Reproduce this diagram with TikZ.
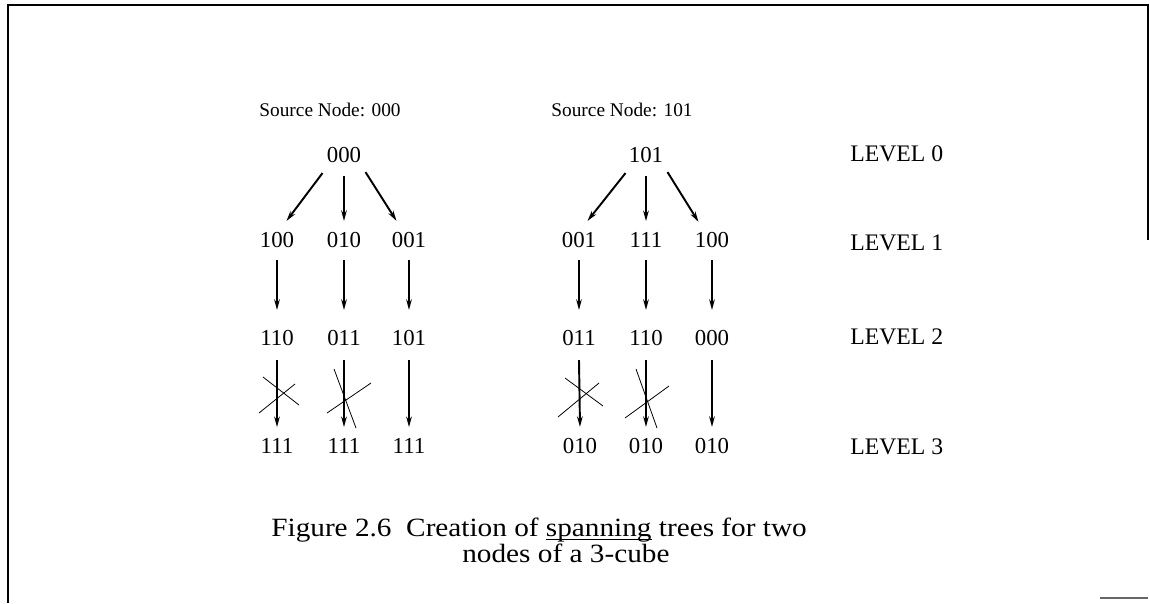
\documentclass[tikz,border=0pt]{standalone}
\usepackage{fontspec}
\setmainfont{Liberation Serif}
\newfontfamily\capfont[FakeStretch=1.11]{Liberation Serif}
\usetikzlibrary{arrows.meta,calc}
\newlength\myulwd
\newcommand\myul[1]{\settowidth\myulwd{#1}\rlap{\rule[-2.2pt]{\myulwd}{0.6pt}}#1}
\begin{document}
\begin{tikzpicture}[x=0.02cm,y=-0.02cm,
  lbl/.style={inner sep=0pt,font=\fontsize{13}{15}\selectfont},
  src/.style={inner sep=0pt,font=\fontsize{11}{13}\selectfont},
  lvl/.style={inner sep=0pt,anchor=west,font=\fontsize{13.5}{16}\selectfont},
  captxt/.style={inner sep=0pt,anchor=base west,font=\capfont\fontsize{15}{18}\selectfont},
  arr/.style={line width=1.1pt,-{Stealth[length=6pt,width=3.2pt]}},
  crs/.style={line width=0.45pt},
  frm/.style={line width=1.4pt}]
\useasboundingbox (0,0) rectangle (1150,603);
% frame
\draw[frm] (8,603) -- (8,5) -- (1148,5) -- (1148,240);
\draw[line width=1pt,black!60] (1100,598) -- (1148,598);

% titles
\node[src] (s1) at (330,110) {Source Node: 000};
\node[src] (s2) at (622,110) {Source Node: 101};

% tree 1
\node[lbl] (t0) at (344,155) {000};
\node[lbl] (a1) at (277,240) {100};
\node[lbl] (a2) at (344,240) {010};
\node[lbl] (a3) at (409,240) {001};
\node[lbl] (b1) at (277,338) {110};
\node[lbl] (b2) at (344,338) {011};
\node[lbl] (b3) at (409,338) {101};
\node[lbl] (c1) at (277,446) {111};
\node[lbl] (c2) at (344,446) {111};
\node[lbl] (c3) at (409,446) {111};

% tree 2
\node[lbl] (u0) at (646,155) {101};
\node[lbl] (d1) at (579,240) {001};
\node[lbl] (d2) at (646,240) {111};
\node[lbl] (d3) at (712,240) {100};
\node[lbl] (e1) at (579,338) {011};
\node[lbl] (e2) at (646,338) {110};
\node[lbl] (e3) at (712,338) {000};
\node[lbl] (f1) at (580,446) {010};
\node[lbl] (f2) at (646,446) {010};
\node[lbl] (f3) at (712,446) {010};

% level labels
\node[lvl] (l0) at (850,154) {LEVEL 0};
\node[lvl] (l1) at (850,243) {LEVEL 1};
\node[lvl] (l2) at (850,337) {LEVEL 2};
\node[lvl] (l3) at (850,447) {LEVEL 3};

% arrows tree 1
\draw[arr] ($(t0.south west)+(-4,10)$) -- ($(a1.north east)+(-8,-11)$);
\draw[arr] ($(t0.south)+(0,13)$) -- ($(a2.north)+(0,-11)$);
\draw[arr] ($(t0.south east)+(4,9)$) -- ($(a3.north west)+(5,-11)$);
\foreach \p/\q in {a1/b1,a2/b2,a3/b3} {
  \draw[arr] ($(\p.south)+(0,12)$) -- ($(\q.north)+(0,-20)$);
}
\foreach \p/\q in {b1/c1,b2/c2,b3/c3} {
  \draw[arr] ($(\p.south)+(0,14)$) -- ($(\q.north)+(0,-11)$);
}
% arrows tree 2
\draw[arr] ($(u0.south west)+(-3,10)$) -- ($(d1.north east)+(-9,-11)$);
\draw[arr] ($(u0.south)+(0,13)$) -- ($(d2.north)+(0,-11)$);
\draw[arr] ($(u0.south east)+(4,9)$) -- ($(d3.north west)+(4,-10)$);
\foreach \p/\q in {d1/e1,d2/e2,d3/e3} {
  \draw[arr] ($(\p.south)+(0,12)$) -- ($(\q.north)+(0,-20)$);
}
\foreach \p/\q in {e1/f1,e2/f2,e3/f3} {
  \draw[arr] ($(\p.south)+(0,14)$) -- ($(\q.north)+(0,-11)$);
}

% crossing-out marks
\draw[crs] (263,377) -- (299,405);
\draw[crs] (259,413) -- (295,384);
\draw[crs] (334,369) -- (356,428);
\draw[crs] (327,413) -- (371,383);
\draw[crs] (565,378) -- (603,406);
\draw[crs] (558,417) -- (599,383);
\draw[crs] (636,369) -- (657,428);
\draw[crs] (625,418) -- (669,386);

% caption
\node[captxt] (cap1) at (271,536) {Figure 2.6\ \ Creation of \myul{spanning} trees for two};
\node[captxt] (cap2) at (462,562) {nodes of a 3-cube};
\end{tikzpicture}
\end{document}
